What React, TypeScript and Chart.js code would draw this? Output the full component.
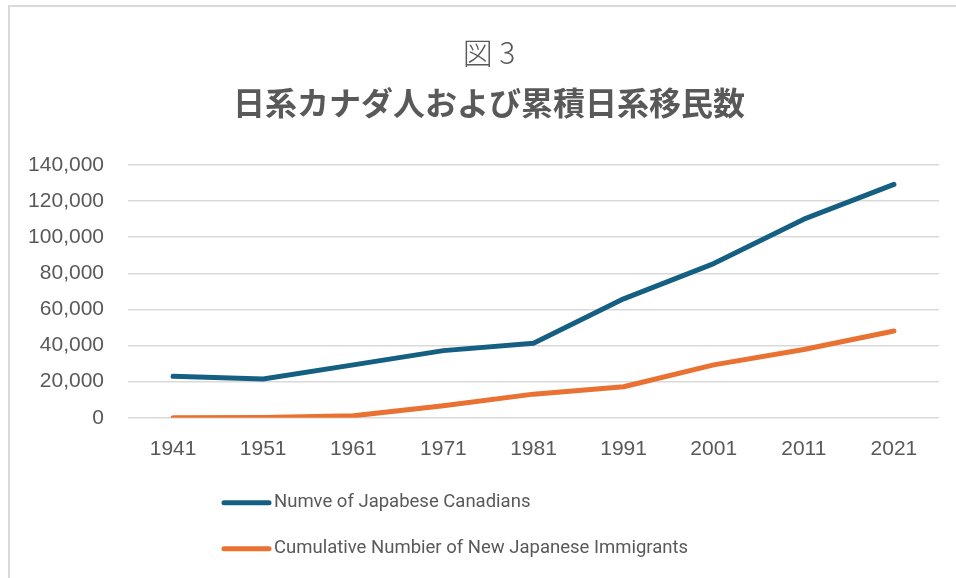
import React, { useEffect, useRef } from "react";
import { Chart, registerables } from "chart.js";

Chart.register(...registerables);

const years = ["1941", "1951", "1961", "1971", "1981", "1991", "2001", "2011", "2021"];
const japaneseCanadians = [23000, 21500, 29300, 37200, 41300, 65900, 85400, 110000, 129300];
const cumulativeImmigrants = [0, 200, 1100, 6700, 13100, 17200, 29300, 37800, 48100];
const seriesLabels = ["Numve of Japabese Canadians", "Cumulative Numbier of New Japanese Immigrants"];
const seriesColors = ["#156082", "#E97132"];
const titleText = "図 3";
const subtitleText = "日系カナダ人および累積日系移民数";

const TEXT = "#595959";

const titlePlugin = {
  id: "customTitles",
  afterDraw(chart: any) {
    const ctx = chart.ctx;
    const cx = 479;
    ctx.save();
    ctx.fillStyle = TEXT;
    ctx.textAlign = "center";
    ctx.textBaseline = "middle";
    ctx.font = "300 30px 'Noto Sans CJK JP'";
    ctx.fillText(titleText, cx, 46);
    ctx.font = "bold 32px 'Noto Sans CJK JP'";
    ctx.fillText(subtitleText, cx, 96);
    ctx.restore();
  },
};

const legendPlugin = {
  id: "customLegend",
  afterDraw(chart: any) {
    const ctx = chart.ctx;
    const area = chart.chartArea;
    const rows = [area.bottom + 85, area.bottom + 131];
    ctx.save();
    chart.data.datasets.forEach((ds: any, i: number) => {
      const y = rows[i];
      ctx.strokeStyle = ds.borderColor;
      ctx.lineWidth = 5;
      ctx.lineCap = "round";
      ctx.beginPath();
      ctx.moveTo(214, y);
      ctx.lineTo(259, y);
      ctx.stroke();
      ctx.fillStyle = TEXT;
      ctx.font = "18.5px Roboto";
      ctx.textBaseline = "middle";
      ctx.textAlign = "left";
      ctx.fillText(ds.label, 264, y);
    });
    ctx.restore();
  },
};

export default function App() {
  const ref = useRef<HTMLCanvasElement | null>(null);
  useEffect(() => {
    document.body.style.overflow = "hidden";
    const chart = new Chart(ref.current as HTMLCanvasElement, {
      type: "line",
      data: {
        labels: years,
        datasets: [
          {
            label: seriesLabels[0],
            data: japaneseCanadians,
            borderColor: seriesColors[0],
            backgroundColor: seriesColors[0],
            borderWidth: 5,
            pointRadius: 0,
            borderCapStyle: "round",
            borderJoinStyle: "round",
            tension: 0,
          },
          {
            label: seriesLabels[1],
            data: cumulativeImmigrants,
            borderColor: seriesColors[1],
            backgroundColor: seriesColors[1],
            borderWidth: 5,
            pointRadius: 0,
            borderCapStyle: "round",
            borderJoinStyle: "round",
            tension: 0,
          },
        ],
      },
      options: {
        animation: false,
        responsive: false,
        maintainAspectRatio: false,
        layout: { padding: { left: 0, right: 21, top: 158, bottom: 109 } },
        plugins: {
          legend: { display: false },
          tooltip: { enabled: false },
          title: { display: false },
        },
        scales: {
          x: {
            offset: true,
            grid: { display: false },
            border: { display: false },
            ticks: {
              color: TEXT,
              font: { family: "'Liberation Sans'", size: 21 },
              padding: 11,
              maxRotation: 0,
            },
          },
          y: {
            min: 0,
            max: 140000,
            afterFit(scale: any) {
              scale.width = 118;
            },
            grid: { color: "#d9d9d9", lineWidth: 1.5, drawTicks: false },
            border: { display: false },
            ticks: {
              stepSize: 20000,
              color: TEXT,
              font: { family: "'Liberation Sans'", size: 21 },
              padding: 24,
              callback: (v: any) => Number(v).toLocaleString("en-US"),
            },
          },
        },
      },
      plugins: [titlePlugin, legendPlugin],
    } as any);
    return () => chart.destroy();
  }, []);

  return (
    <div
      style={{
        position: "fixed",
        left: 8,
        top: 5,
        width: 960,
        height: 590,
        borderLeft: "2px solid #d9d9d9",
        borderTop: "2px solid #d9d9d9",
        background: "#fff",
      }}
    >
      <canvas ref={ref} width={950} height={575} style={{ display: "block" }} />
    </div>
  );
}
